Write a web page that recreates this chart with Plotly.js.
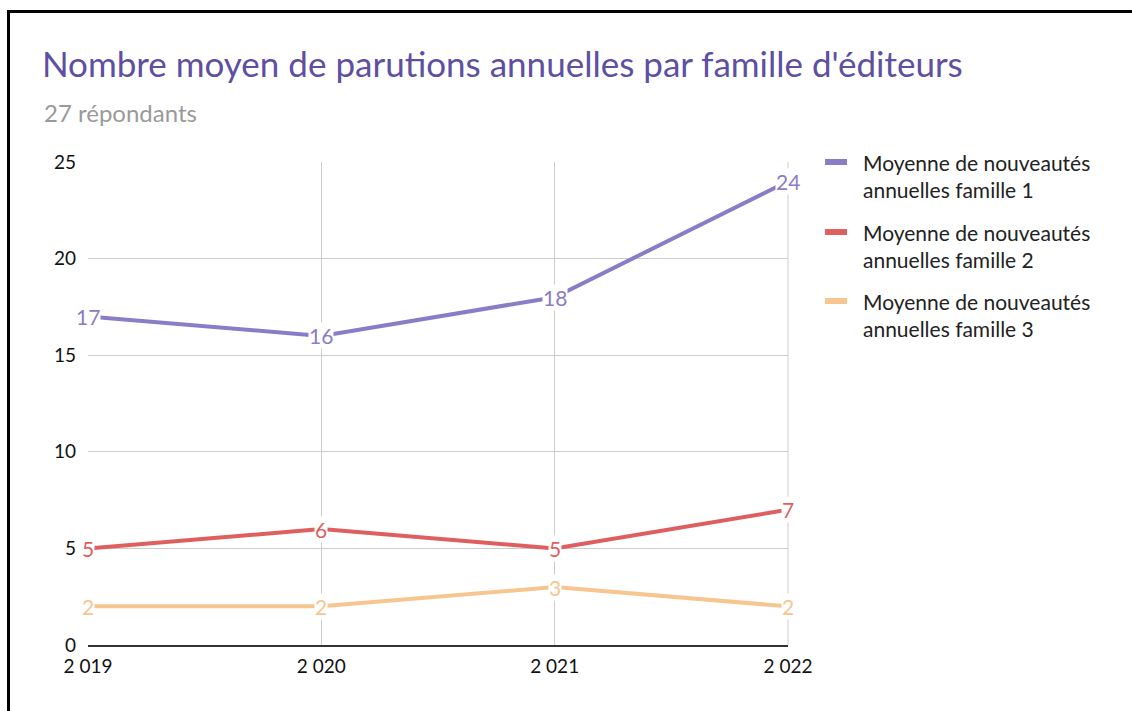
<!DOCTYPE html>
<html><head><meta charset="utf-8">
<script src="https://cdn.plot.ly/plotly-3.0.1.min.js"></script>
<style>
html,body{margin:0;padding:0;background:#fff;}
#chart{width:1132px;height:711px;}
#frame{position:absolute;left:7px;top:10px;width:1200px;height:800px;border-top:3px solid #000;border-left:3px solid #000;pointer-events:none;}
</style></head>
<body>
<div id="chart"></div>
<div id="frame"></div>
<script>
const years = [2019, 2020, 2021, 2022];
const famille1 = [17, 16, 18, 24];
const famille2 = [5, 6, 5, 7];
const famille3 = [2, 2, 3, 2];
const seriesNames = [
  "Moyenne de nouveautés<br>annuelles famille 1",
  "Moyenne de nouveautés<br>annuelles famille 2",
  "Moyenne de nouveautés<br>annuelles famille 3"
];
const colors = ["#8a7cc6", "#df5f5f", "#f7c690"];
const allSeries = [famille1, famille2, famille3];
const FONT = "Lato, 'Open Sans', sans-serif";

const traces = allSeries.map((vals, i) => ({
  x: years, y: vals, type: "scatter", mode: "lines",
  name: seriesNames[i], showlegend: false,
  line: {color: colors[i], width: 4},
  hoverinfo: "skip"
}));

const annotations = [];
allSeries.forEach((vals, i) => {
  vals.forEach((v, j) => {
    annotations.push({
      x: years[j], y: v, xref: "x", yref: "y", text: String(v),
      showarrow: false, font: {family: FONT, size: 21, color: colors[i]},
      bgcolor: "#ffffff", borderpad: 0, xanchor: "center", yanchor: "middle"
    });
  });
});
annotations.push({
  xref: "paper", yref: "paper", x: -0.0657, y: 1.1035,
  xanchor: "left", yanchor: "middle", showarrow: false,
  text: "27 répondants", font: {family: FONT, size: 24, color: "#9a9a9a"}
});

// manual legend (swatch aligned with first text line)
const legendY = [1.0, 0.855, 0.7122];
const shapes = [];
seriesNames.forEach((nm, i) => {
  shapes.push({
    type: "rect", xref: "paper", yref: "paper",
    x0: 1.0529, x1: 1.0843, y0: legendY[i] - 0.0062, y1: legendY[i] + 0.0062,
    fillcolor: colors[i], line: {width: 0}
  });
  annotations.push({
    xref: "paper", yref: "paper", x: 1.1043, y: legendY[i] + 0.029,
    xanchor: "left", yanchor: "top", align: "left", showarrow: false,
    text: nm, font: {family: FONT, size: 21, color: "#222"}
  });
});

const layout = {
  width: 1132, height: 711,
  paper_bgcolor: "#ffffff", plot_bgcolor: "#ffffff",
  separators: ", ",
  font: {family: FONT, color: "#222"},
  margin: {l: 88, r: 344, t: 162, b: 66},
  title: {
    text: "Nombre moyen de parutions annuelles par famille d'éditeurs",
    x: 0.037, xref: "container", xanchor: "left",
    y: 0.909, yref: "container", yanchor: "middle",
    font: {family: FONT, size: 35, color: "#5e4fa2"}
  },
  xaxis: {
    range: [2019, 2022], tickvals: years, tickformat: ",d",
    showgrid: true, gridcolor: "#cccccc", gridwidth: 1,
    showline: true, linecolor: "#333333", linewidth: 1.5,
    ticks: "", zeroline: false, ticklabelstandoff: 4,
    tickfont: {family: FONT, size: 19, color: "#111"}
  },
  yaxis: {
    range: [0, 25], dtick: 5, tick0: 0,
    showgrid: true, gridcolor: "#cccccc", gridwidth: 1,
    showline: false, zeroline: false, ticks: "", ticklabelstandoff: 11,
    tickfont: {family: FONT, size: 19, color: "#111"}
  },
  showlegend: false,
  annotations: annotations,
  shapes: shapes.concat([{
    type: "line", xref: "paper", yref: "paper", x0: 1, x1: 1, y0: 0, y1: 1,
    line: {color: "#cccccc", width: 1}, layer: "below"
  }])
};

Plotly.newPlot("chart", traces, layout, {displayModeBar: false, staticPlot: true});
</script>
</body></html>
